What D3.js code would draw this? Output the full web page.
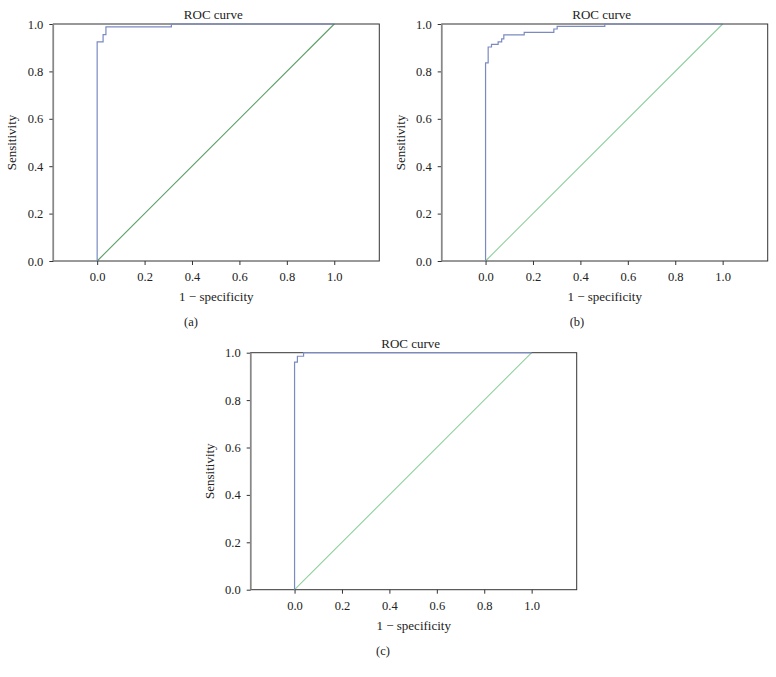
<!DOCTYPE html>
<html>
<head>
<meta charset="utf-8">
<script src="https://cdn.jsdelivr.net/npm/d3@7"></script>
<style>
  body { margin: 0; background: #fff; }
  svg { display: block; }
  text { font-family: "Liberation Serif", "DejaVu Serif", serif; fill: #222; }
</style>
</head>
<body>
<svg width="776" height="677"></svg>
<script>
// tick values shared by all three plots
const xTicks = [0, 0.2, 0.4, 0.6, 0.8, 1.0];
const yTicks = [0, 0.2, 0.4, 0.6, 0.8, 1.0];

// ROC points (step after each point)
const fprA = [0, 0, 0.025, 0.037, 0.313, 1];
const tprA = [0, 0.925, 0.955, 0.988, 1, 1];

const fprB = [0, 0, 0.011, 0.025, 0.053, 0.068, 0.077, 0.163, 0.288, 0.302, 0.503, 1];
const tprB = [0, 0.836, 0.903, 0.914, 0.925, 0.937, 0.954, 0.965, 0.979, 0.99, 1, 1];

const fprC = [0, 0, 0.012, 0.038, 1];
const tprC = [0, 0.96, 0.985, 1, 1];

// chance line
const diag = [0, 1];

const panels = [
  { left: 53.3, top: 24, fpr: fprA, tpr: tprA, tag: "(a)", tagX: 191, diagColor: "#5c9e68" },
  { left: 441.7, top: 24, fpr: fprB, tpr: tprB, tag: "(b)", tagX: 577, diagColor: "#8fd09c" },
  { left: 250.7, top: 352.7, fpr: fprC, tpr: tprC, tag: "(c)", tagX: 383, diagColor: "#8fd09c" }
];

const w = 326, h = 237;
let svg = d3.select("svg");

panels.forEach(function (p) {
  let x = d3.scaleLinear().domain([-0.185, 1.19]).range([0, w]);
  let y = d3.scaleLinear().domain([0, 1]).range([h, 0]);

  let g = svg.append("g").attr("transform", "translate(" + p.left + "," + p.top + ")");

  // axes
  let xAxis = d3.axisBottom(x).tickValues(xTicks).tickFormat(d3.format(".1f")).tickSize(4).tickPadding(7);
  let yAxis = d3.axisLeft(y).tickValues(yTicks).tickFormat(d3.format(".1f")).tickSize(4).tickPadding(6);

  let gx = g.append("g").attr("transform", "translate(0," + h + ")").call(xAxis);
  let gy = g.append("g").call(yAxis);
  [gx, gy].forEach(function (a) {
    a.select(".domain").remove();
    a.selectAll("line").attr("stroke", "#333");
    a.selectAll("text").style("font-size", "12.5px").style("font-family", "Liberation Serif, serif").attr("fill", "#222");
  });

  // diagonal
  let line = d3.line()
    .x(function (d) { return x(d); })
    .y(function (d) { return y(d); });

  g.append("path")
    .datum(diag)
    .attr("d", line)
    .attr("fill", "none")
    .attr("stroke", p.diagColor)
    .attr("stroke-width", 1.1);

  // frame
  g.append("rect")
    .attr("width", w).attr("height", h)
    .attr("fill", "none")
    .attr("stroke", "#333")
    .attr("stroke-width", 1);
  g.append("line")
    .attr("x1", 0).attr("x2", 0).attr("y1", 0).attr("y2", h)
    .attr("stroke", "#888").attr("stroke-width", 1.6);

  // ROC curve
  let pts = p.fpr.map(function (f, i) { return { x: f, y: p.tpr[i] }; });
  let roc = d3.line()
    .x(function (d) { return x(d.x); })
    .y(function (d) { return y(d.y); })
    .curve(d3.curveStepAfter);

  g.append("path")
    .datum(pts)
    .attr("d", roc)
    .attr("fill", "none")
    .attr("stroke", "#7b8ac2")
    .attr("stroke-width", 1.2);

  // texts
  g.append("text")
    .attr("x", w / 2 - 3).attr("y", -5)
    .attr("text-anchor", "middle")
    .style("font-size", "13px")
    .text("ROC curve");

  g.append("text")
    .attr("x", w / 2).attr("y", h + 40)
    .attr("text-anchor", "middle")
    .style("font-size", "13px")
    .text("1 \u2212 specificity");

  g.append("text")
    .attr("transform", "translate(-37," + h / 2 + ") rotate(-90)")
    .attr("text-anchor", "middle")
    .style("font-size", "13px")
    .text("Sensitivity");

  g.append("text")
    .attr("x", p.tagX - p.left).attr("y", h + 65)
    .attr("text-anchor", "middle")
    .style("font-size", "12.5px")
    .text(p.tag);
});
</script>
</body>
</html>
